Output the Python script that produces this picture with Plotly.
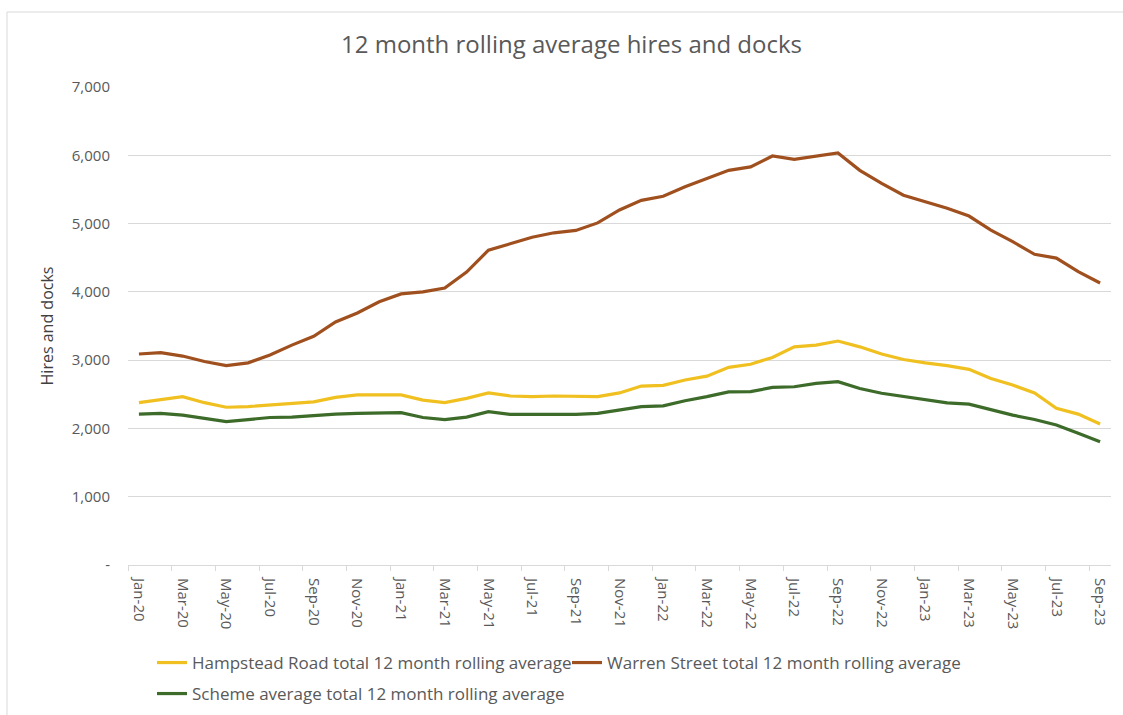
import plotly.graph_objects as go

months = ["Jan", "Feb", "Mar", "Apr", "May", "Jun", "Jul", "Aug", "Sep", "Oct", "Nov", "Dec"]
categories = [f"{m}-{y}" for y in ["20", "21", "22", "23"] for m in months][:45]

hampstead = [2377, 2425, 2465, 2377, 2310, 2320, 2340, 2370, 2390, 2455, 2490, 2490,
             2490, 2415, 2377, 2440, 2520, 2475, 2465, 2475, 2465, 2465, 2520, 2620,
             2630, 2710, 2765, 2895, 2940, 3040, 3195, 3220, 3280, 3195, 3090, 3010,
             2960, 2920, 2865, 2730, 2635, 2520, 2295, 2210, 2065]
warren = [3090, 3110, 3060, 2980, 2920, 2960, 3075, 3220, 3350, 3560, 3690, 3855,
          3970, 4000, 4055, 4290, 4610, 4710, 4800, 4865, 4900, 5010, 5200, 5340,
          5400, 5540, 5660, 5780, 5830, 5990, 5940, 5990, 6035, 5780, 5590, 5415,
          5320, 5225, 5110, 4905, 4735, 4550, 4495, 4295, 4130]
scheme = [2210, 2220, 2195, 2145, 2100, 2130, 2160, 2165, 2190, 2210, 2220, 2230,
          2230, 2160, 2130, 2165, 2245, 2205, 2205, 2205, 2205, 2220, 2275, 2320,
          2330, 2405, 2465, 2535, 2540, 2600, 2610, 2660, 2685, 2585, 2515, 2465,
          2415, 2375, 2355, 2270, 2195, 2130, 2050, 1930, 1805]

series_names = ["Hampstead Road total 12 month rolling average",
                "Warren Street total 12 month rolling average",
                "Scheme average total 12 month rolling average"]
colors = ["#F0C020", "#A0501E", "#3D6B2A"]
legend_ids = ["legend", "legend", "legend2"]

y_ticks = [0, 1000, 2000, 3000, 4000, 5000, 6000, 7000]
y_tick_text = ["-", "1,000", "2,000", "3,000", "4,000", "5,000", "6,000", "7,000"]

xidx = list(range(len(categories)))

W, H = 1123, 715
L, R, T, B = 128, 12, 87, 150
PW, PH = W - L - R, H - T - B

fig = go.Figure()
for name, vals, col, lg in zip(series_names, [hampstead, warren, scheme], colors, legend_ids):
    fig.add_trace(go.Scatter(x=xidx, y=vals, name=name, mode="lines", legend=lg,
                             line=dict(color=col, width=3.2)))

# invisible trace to carry the boundary tick marks axis
fig.add_trace(go.Scatter(x=[-0.5, 44.5], y=[None, None], xaxis="x2", showlegend=False,
                         hoverinfo="skip"))

font_fam = "Open Sans, Noto Sans, sans-serif"
grey = "#595959"
legend_font = dict(family=font_fam, size=17, color=grey)


def px_x(p):
    return (p - L) / PW


def px_y(p):
    return (H - B - p) / PH


fig.update_layout(
    width=W, height=H,
    paper_bgcolor="white", plot_bgcolor="white",
    margin=dict(l=L, r=R, t=T, b=B, autoexpand=False),
    title=dict(text="12 month rolling average hires and docks", x=571.5 / W, xanchor="center",
               xref="container", y=1 - 45 / H, yanchor="middle", yref="container",
               font=dict(family=font_fam, size=24, color=grey)),
    font=dict(family=font_fam, color=grey),
    xaxis=dict(range=[-0.5, 44.5], tickmode="array", tickvals=xidx[::2],
               ticktext=categories[::2], tickangle=90, ticks="", automargin=False,
               ticklabelstandoff=9,
               tickfont=dict(size=15, color=grey), showgrid=False, zeroline=False,
               showline=True, linecolor="#d9d9d9", linewidth=1),
    xaxis2=dict(range=[-0.5, 44.5], overlaying="x", anchor="y", side="bottom",
                tickmode="array", tickvals=[i - 0.5 for i in range(0, 46, 2)],
                showticklabels=False, ticks="outside", ticklen=5, tickcolor="#d9d9d9",
                showgrid=False, zeroline=False, automargin=False),
    yaxis=dict(range=[0, 7000.01], tickmode="array", tickvals=y_ticks, ticktext=y_tick_text,
               tickfont=dict(size=15, color=grey), showgrid=True, gridcolor="#d9d9d9",
               gridwidth=1, zeroline=False, ticks="", automargin=False,
               ticklabelstandoff=17,
               title=dict(text="Hires and docks", font=dict(size=16, color="#404040"),
                          standoff=14)),
    legend=dict(orientation="h", xref="container", yref="container",
                x=152 / W, xanchor="left", y=1 - 645 / H, yanchor="top",
                font=legend_font, entrywidth=370, itemwidth=30),
    legend2=dict(orientation="h", xref="container", yref="container",
                 x=152 / W, xanchor="left", y=1 - 676 / H, yanchor="top",
                 font=legend_font, itemwidth=30),
    showlegend=True,
    shapes=[
        dict(type="line", xref="paper", yref="paper", x0=px_x(7), x1=px_x(7),
             y0=px_y(12), y1=px_y(H), line=dict(color="#d9d9d9", width=1)),
        dict(type="line", xref="paper", yref="paper", x0=px_x(7), x1=px_x(W),
             y0=px_y(12), y1=px_y(12), line=dict(color="#d9d9d9", width=1)),
    ],
)

fig.write_html("out.html", config={"displayModeBar": False},
               post_script="document.body.style.margin='0';")
